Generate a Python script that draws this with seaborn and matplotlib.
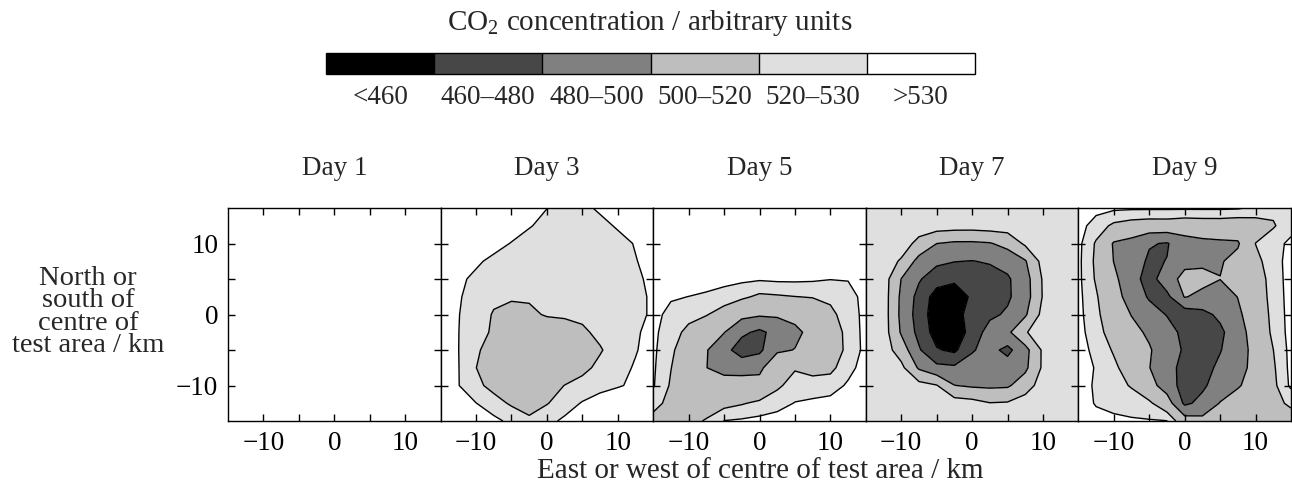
import numpy as np
import matplotlib
matplotlib.use("Agg")
import matplotlib.pyplot as plt
import seaborn as sns

# grid positions in km (east-west and north-south), same for every day
km = [-15, -12.5, -10, -7.5, -5, -2.5, 0, 2.5, 5, 7.5, 10, 12.5, 15]

days = ["Day 1", "Day 3", "Day 5", "Day 7", "Day 9"]

# CO2; each row is one north-south position, from +15 km (north) down to -15 km
day1 = [
    [540, 540, 540, 540, 540, 540, 540, 540, 540, 540, 540, 540, 540],
    [540, 540, 540, 540, 540, 540, 540, 540, 540, 540, 540, 540, 540],
    [540, 540, 540, 540, 540, 540, 540, 540, 540, 540, 540, 540, 540],
    [540, 540, 540, 540, 540, 540, 540, 540, 540, 540, 540, 540, 540],
    [540, 540, 540, 540, 540, 540, 540, 540, 540, 540, 540, 540, 540],
    [540, 540, 540, 540, 540, 540, 540, 540, 540, 540, 540, 540, 540],
    [540, 540, 540, 540, 540, 540, 540, 540, 540, 540, 540, 540, 540],
    [540, 540, 540, 540, 540, 540, 540, 540, 540, 540, 540, 540, 540],
    [540, 540, 540, 540, 540, 540, 540, 540, 540, 540, 540, 540, 540],
    [540, 540, 540, 540, 540, 540, 540, 540, 540, 540, 540, 540, 540],
    [540, 540, 540, 540, 540, 540, 540, 540, 540, 540, 540, 540, 540],
    [540, 540, 540, 540, 540, 540, 540, 540, 540, 540, 540, 540, 540],
    [540, 540, 540, 540, 540, 540, 540, 540, 540, 540, 540, 540, 540],
]

day3 = [
    [540, 540, 540, 540, 540, 535, 530.2, 525, 527, 532, 537, 540, 540],
    [540, 540, 540, 540, 536, 531, 526, 522, 522, 526.4, 531.4, 536.4, 540],
    [540, 540, 539.4, 534.4, 529.4, 524.4, 522, 522, 522, 522, 525.8, 530.8, 535.8],
    [540, 537, 532, 527, 522, 522, 522, 522, 522, 522, 524.4, 529.4, 534.4],
    [537.4, 532.4, 527.4, 522.4, 522, 522, 522, 522, 522, 522, 522.8, 527.8, 532.8],
    [536, 531, 526, 522, 522, 522, 522, 522, 522, 522, 522, 526.8, 531.8],
    [535.4, 530.4, 524.8, 519.2, 514.2, 516.6, 521.6, 522, 522, 522, 522, 526.8, 531.8],
    [535.2, 530.2, 524.1, 518.4, 513.4, 508.4, 508.4, 513.4, 518.4, 522.2, 525.5, 528.8, 533],
    [535.2, 530.2, 521.4, 515.8, 510.8, 506, 506, 509.2, 514.2, 519.2, 524.2, 529.3, 534.3],
    [535.4, 530.4, 520.1, 515, 510, 506, 506, 512.6, 517.6, 522.2, 526.6, 531, 536],
    [535.4, 530.4, 522.6, 516.6, 511.6, 510.4, 515.4, 520.2, 523, 525.8, 528.7, 532.6, 537.6],
    [540, 535.2, 530.2, 524.2, 518.5, 514.4, 519.4, 525.1, 530.8, 535.8, 540, 540, 540],
    [540, 540, 537.6, 532.6, 527.6, 522.6, 527, 532, 537, 540, 540, 540, 540],
]

day5 = [
    [540, 540, 540, 540, 540, 540, 540, 540, 540, 540, 540, 540, 540],
    [540, 540, 540, 540, 540, 540, 540, 540, 540, 540, 540, 540, 540],
    [540, 540, 540, 540, 540, 540, 540, 540, 540, 540, 540, 540, 540],
    [540, 540, 540, 539, 538, 537, 536, 537, 537, 536.6, 535.3, 535.1, 536.4],
    [537.4, 535.7, 534.9, 534, 533.1, 532.1, 531.2, 532, 532, 531.5, 530.3, 530.4, 532.9],
    [534.2, 531, 529.9, 528.5, 526, 522.4, 517.6, 518.6, 519.8, 520.6, 522.2, 527.1, 532.5],
    [532.9, 527.3, 523.6, 520.75, 514.3, 505.4, 502.5, 502.7, 505.1, 510.6, 517.4, 524.75, 533.1],
    [532.2, 524.8, 516.8, 509.5, 500.7, 484, 476, 486.6, 496.1, 505.1, 513, 523.3, 533.3],
    [531.9, 522.5, 510.8, 501.2, 487.1, 470, 476, 497.1, 500.5, 505.4, 512.6, 522.9, 533],
    [531.5, 520.3, 509.8, 500.2, 495.4, 493.9, 495.5, 515.3, 518.9, 515.8, 516.8, 527, 534],
    [530.9, 518.6, 510.7, 506.5, 506.3, 507.6, 507.1, 517.8, 524.9, 524.9, 525.9, 531.3, 536],
    [523.6, 516.7, 513.8, 513.4, 515.9, 519, 522.5, 526.4, 530.4, 531.8, 533, 534.6, 537],
    [516.4, 513.8, 516.2, 521.1, 530.3, 531.5, 532.9, 534, 536, 538, 540, 540, 540],
]

day7 = [
    [529, 529, 529, 529, 529, 529, 529, 529, 529, 529, 529, 529, 529],
    [529, 529, 529, 529, 529, 527.8, 527.6, 529, 529, 529, 529, 529, 529],
    [529, 529, 529, 514.5, 500.1, 496.9, 496.8, 498.6, 506.5, 523.2, 529, 529, 529],
    [529, 529, 517.9, 493.1, 484.2, 480.6, 479.4, 481.9, 486.7, 498.3, 526.8, 529, 529],
    [529, 529, 499.7, 482, 468.9, 464.5, 464.5, 471.3, 477.5, 491.6, 522, 529, 529],
    [529, 529, 496.2, 473.8, 451.2, 446, 464, 470, 477.2, 490.8, 521.4, 529, 529],
    [529, 529, 495.4, 471.6, 448, 447.4, 472.8, 476.2, 482.6, 497.3, 526, 529, 529],
    [529, 529, 497.9, 474.4, 451, 445, 469, 487.8, 495.8, 518.6, 529, 529, 529],
    [529, 529, 510.9, 482.2, 461.8, 456, 478.6, 485.7, 475, 493.3, 523.2, 529, 529],
    [529, 529, 524.8, 497.3, 485.3, 483.7, 486.5, 489.4, 488.9, 495.8, 523.2, 529, 529],
    [529, 529, 529, 526.5, 521, 500.4, 497.3, 496.4, 497.3, 510.7, 529, 529, 529],
    [529, 529, 529, 529, 529, 529, 526.6, 520.7, 521.7, 529, 529, 529, 529],
    [529, 529, 529, 529, 529, 529, 529, 529, 529, 529, 529, 529, 529],
]

day9 = [
    [536, 533.1, 532, 531.6, 531.6, 531.6, 531.6, 531.6, 531.6, 531.2, 527.9, 522.4, 523.4],
    [533.7, 525.8, 517.5, 514.3, 512.8, 513, 511, 511.9, 512, 510.6, 513.5, 519, 525.8],
    [532.7, 518.6, 498.3, 493.5, 481.5, 478.6, 491.6, 495.4, 496.9, 498.1, 520.2, 525.7, 532.6],
    [532.4, 517.6, 499.6, 490, 477, 480.5, 494.7, 496.1, 498.6, 505.1, 516.4, 526.3, 533.5],
    [532.4, 518.6, 504.1, 488, 471.9, 491.4, 506, 506, 500.3, 501, 512.4, 525.5, 533.6],
    [532.6, 521.4, 507.2, 492.2, 477.8, 475.3, 501.1, 494.8, 491.6, 500.4, 511.4, 524.7, 533.6],
    [532.8, 522.9, 510.2, 499.4, 488.1, 479.1, 468.7, 474.5, 484.1, 496.9, 509.7, 523.7, 533.6],
    [533.2, 524.8, 513.8, 505, 497.2, 487.5, 475, 463, 475.8, 492.8, 508, 522.8, 533.5],
    [533.8, 527.4, 518.7, 511.4, 501.6, 490.3, 477.5, 466.2, 479, 491.6, 506, 519.9, 533.2],
    [534.5, 529.3, 522.5, 513.3, 500.5, 487.2, 473.7, 473.1, 484, 493.9, 505.4, 518.3, 533],
    [533.8, 528.8, 523.8, 519.1, 507.3, 490.8, 471.6, 477, 488.6, 498.4, 507, 517, 532.1],
    [534.2, 529.3, 527.2, 525, 522.4, 509.7, 476.4, 485.1, 501, 507.7, 512, 517, 521.8],
    [535.6, 533, 532, 531.3, 530.8, 530.3, 509.7, 506, 510, 513, 515, 516, 515.2],
]

fields = [day1, day3, day5, day7, day9]

# shading bands of the legend
levels = [440, 460, 480, 500, 520, 530, 550]
band_mids = [450, 470, 490, 510, 525, 540]
band_labels = ["<460", "460–480", "480–500", "500–520", "520–530", ">530"]
band_colors = ["#000000", "#474747", "#808080", "#bebebe", "#dfdfdf", "#ffffff"]

sns.set_theme(style="ticks")
plt.rcParams["font.family"] = ["Liberation Serif", "DejaVu Serif"]
plt.rcParams["mathtext.fontset"] = "custom"
plt.rcParams["mathtext.rm"] = "Liberation Serif"
plt.rcParams["axes.unicode_minus"] = True

FS = 19.5
FS_LABEL = 21
W, H = 1292, 492
fig = plt.figure(figsize=(W / 100, H / 100), dpi=100)

panel_w = 212.6
cf = None
for i, (name, rows) in enumerate(zip(days, fields)):
    ax = fig.add_axes([(228 + i * panel_w) / W, (H - 421) / H, panel_w / W, 213 / H])
    ax.set_axisbelow(False)  # keep the inward ticks above the shading
    z = np.array(rows, dtype=float)[::-1]  # south to north
    cf = ax.contourf(km, km, z, levels=levels, colors=band_colors)
    if z.min() != z.max():
        ax.contour(km, km, z, levels=levels[1:-1], colors="black", linewidths=1.0)

    ax.set_xlim(-15, 15)
    ax.set_ylim(-15, 15)
    ax.set_xticks([-10, 0, 10])
    ax.set_xticks([-5, 5], minor=True)
    ax.set_yticks([-10, 0, 10])
    ax.set_yticks([-5, 5], minor=True)
    ax.tick_params(which="both", direction="in", length=5, width=1.0,
                   bottom=True, left=True, top=True, right=True,
                   colors="black", labelsize=FS, pad=7)
    if i > 0:
        ax.tick_params(labelleft=False)
    for s in ax.spines.values():
        s.set_linewidth(1.0)
        s.set_color("black")
        s.set_zorder(5)
    ax.set_title(name, fontsize=FS, pad=24)

# legend bar
cax = fig.add_axes([326 / W, (H - 74) / H, 649 / W, 21 / H])
cbar = fig.colorbar(cf, cax=cax, orientation="horizontal", spacing="uniform", drawedges=True)
cbar.set_ticks(band_mids)
cbar.set_ticklabels(band_labels)
cbar.ax.tick_params(length=0, labelsize=FS, pad=8)
cbar.ax.minorticks_off()
cbar.outline.set_linewidth(1.0)
cbar.outline.set_edgecolor("black")
cbar.dividers.set_color("black")
cbar.dividers.set_linewidth(1.0)

fig.text(650 / W, 1 - 23 / H, r"CO$_2$ concentration / arbitrary units",
         ha="center", va="center", fontsize=FS_LABEL)
fig.text(88 / W, 1 - 312 / H, "North or\nsouth of\ncentre of\ntest area / km",
         ha="center", va="center", multialignment="center", fontsize=20.5, linespacing=0.86)
fig.text(760 / W, 1 - 471 / H, "East or west of centre of test area / km",
         ha="center", va="center", fontsize=FS_LABEL)

fig.savefig("out.png", dpi=100)
plt.close(fig)
